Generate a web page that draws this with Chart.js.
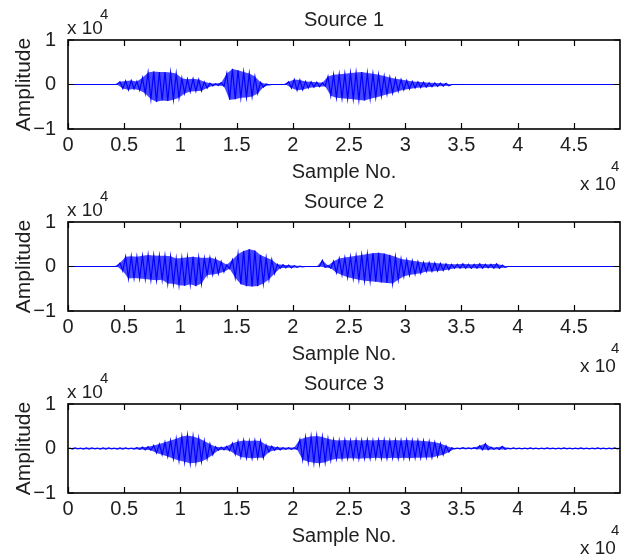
<!DOCTYPE html>
<html>
<head>
<meta charset="utf-8">
<script src="https://cdn.jsdelivr.net/npm/chart.js@4.4.1/dist/chart.umd.min.js"></script>
<style>
html,body{margin:0;padding:0;background:#ffffff;}
#wrap{position:relative;width:637px;height:560px;overflow:hidden;}
#wrap canvas{position:absolute;left:0;}
</style>
</head>
<body>
<div id="wrap">
<canvas id="c1" width="637" height="196" style="top:0px"></canvas>
<canvas id="c2" width="637" height="196" style="top:182px"></canvas>
<canvas id="c3" width="637" height="196" style="top:364px"></canvas>
</div>
<script>
// ---- data (amplitude envelopes, one value per 500-sample block) ----
const BIN = 500;
const X_MAX = 49100;
const titles = ["Source 1", "Source 2", "Source 3"];
const xTickValues = [0, 5000, 10000, 15000, 20000, 25000, 30000, 35000, 40000, 45000];
const xTickLabels = ["0", "0.5", "1", "1.5", "2", "2.5", "3", "3.5", "4", "4.5"];
const yTickValues = [-10000, 0, 10000];
const yTickLabels = ["\u22121", "0", "1"];

const s1Upper = [0,0,0,0,0,0,0,0,0, 600, 800,900,700,1500, 2700,2900,2800,2800,2700,2500,
  1400,1200,1300,1100, 600,300,200,400, 2500,3500,3200,2800,2500,1800,500,100, 0,0,0, 600,
  1100,1000,700,600,500,400, 1800,2200,2300,2400,2600,2700,2800,2600,2400,2200,1900,1600,1300,1100,900,700,600,500,400,350,300,250,
  0,0,0,0,0,0,0,0,0,0,0,0,0,0,0,0,0,0,0,0,0,0,0,0,0,0,0,0,0,0,0];
const s1Lower = [0,0,0,0,0,0,0,0,0, -900, -1200,-1000,-1300,-2000, -3300,-3900,-3600,-3700,-3400,-3000,
  -2000,-1600,-1500,-1400, -800,-300,-200,-400, -3400,-3300,-3000,-2900,-2700,-2000,-600,-100, 0,0,0, -800,
  -1300,-1200,-800,-600,-500,-400, -2500,-3000,-3100,-3200,-3300,-3500,-3600,-3200,-2900,-2600,-2200,-1900,-1500,-1200,-1000,-800,-700,-600,-500,-400,-350,-300,
  0,0,0,0,0,0,0,0,0,0,0,0,0,0,0,0,0,0,0,0,0,0,0,0,0,0,0,0,0,0,0];

const s2Upper = [0,0,0,0,0,0,0,0,0, 800, 2200,2300,2200,2400, 2600,2500,2400, 2400,2300, 1800,1900,2100, 2200,2000,
  1900,2000,1700,1100, 400, 1500,2800,3500,3900,3600,2600,2000,1500,500, 400,300,200,100, 0,0,0, 1400, 200,
  1200,1800,2000,2200,2400,2600,2800,3000,3100,2900,2600,2200,1700,1500,1300,1100,900,900,800,700,600,
  500,500,600,500,500,600,500,500,600,300,
  0,0,0,0,0,0,0,0,0,0,0,0,0,0,0,0,0,0,0,0,0];
const s2Lower = [0,0,0,0,0,0,0,0,0, -1000, -2700,-2600,-2700,-2800, -3000,-3100,-3000, -3800,-3900, -4200,-4300,-4000, -4400,-3800,
  -1900,-1800,-1600,-1200, -500, -2500,-4000,-4400,-4500,-4400,-3800,-2900,-1600,-400, -300,-300,-200,-100, 0,0,0, -200, -400,
  -1400,-1900,-2400,-2700,-3000,-3200,-3300,-3400,-3600,-3700,-3800,-3000,-2200,-1900,-1700,-1500,-1100,-1100,-1000,-900,-700,
  -400,-400,-400,-400,-400,-400,-300,-400,-400,-200,
  0,0,0,0,0,0,0,0,0,0,0,0,0,0,0,0,0,0,0,0,0];

const s3Upper = [150,150,100,150,150,100,150,150,100,150,150,100, 200,300,400,
  700,1000,1400,1800,2200,2700,2900,2700,2300,1700,1000, 400,300,500,
  1200,1600,1800,1700,1800,1700, 800,500,300, 200,200,200,
  2000,2500,2700,2800,2600,2200,
  1900,1800,1900,1800,1900,1800,1900,1800,1900,1900,1800,1900,1800,1900,1800,1800,1700,
  1600,1400,1100,600, 150,100,200,150,200, 600,1100, 300,200,500,
  100,150,100,100,150,100,100,150,100,100,150,100,100,150,100,100,150,100,100,150,100];
const s3Lower = [-150,-100,-150,-150,-100,-150,-150,-100,-150,-150,-100,-150, -200,-300,-400,
  -1000,-1400,-1800,-2300,-2700,-3000,-3300,-3200,-2900,-2300,-1400, -400,-300,-500,
  -1300,-1900,-2100,-2200,-2100,-2100, -800,-400,-300, -200,-200,-200,
  -2500,-3000,-3200,-3300,-3100,-2600,
  -2300,-2300,-2200,-2200,-2300,-2200,-2200,-2100,-2200,-2200,-2100,-2200,-2100,-2200,-2100,-2100,-2000,
  -2000,-1700,-1400,-800, -100,-100,-100,-100,-100, -300,-300, -200,-200,-200,
  -100,-100,-100,-100,-100,-100,-100,-100,-100,-100,-100,-100,-100,-100,-100,-100,-100,-100,-100,-100,-100];

// ---- styling ----
const FONT = "'Liberation Sans', Arial, sans-serif";
const TXT = "#1e1e1e";

function zigzag(upper, lower) {
  const pts = [];
  for (let i = 0; i < upper.length; i++) {
    pts.push({x: i * BIN + BIN * 0.25, y: upper[i]});
    pts.push({x: i * BIN + BIN * 0.75, y: lower[i]});
  }
  return pts;
}
function envelope(vals, shift) {
  return vals.map((v, i) => ({x: i * BIN + BIN * shift, y: v}));
}

const framePlugin = {
  id: 'matlabFrame',
  afterDatasetsDraw(chart) {
    const {ctx, chartArea: a, scales: {x, y}} = chart;
    ctx.save();
    ctx.strokeStyle = '#000';
    ctx.lineWidth = 1.6;
    ctx.strokeRect(a.left, a.top, a.right - a.left, a.bottom - a.top);
    ctx.lineWidth = 1.2;
    ctx.beginPath();
    xTickValues.forEach(v => {
      const p = Math.round(x.getPixelForValue(v)) + 0.5;
      ctx.moveTo(p, a.bottom); ctx.lineTo(p, a.bottom - 6);
      ctx.moveTo(p, a.top); ctx.lineTo(p, a.top + 6);
    });
    yTickValues.forEach(v => {
      const p = y.getPixelForValue(v);
      ctx.moveTo(a.left, p); ctx.lineTo(a.left + 6, p);
      ctx.moveTo(a.right, p); ctx.lineTo(a.right - 6, p);
    });
    ctx.stroke();
    // exponent labels
    ctx.fillStyle = TXT;
    ctx.textBaseline = 'middle';
    ctx.textAlign = 'left';
    ctx.font = "19px " + FONT;
    ctx.fillText("x 10", a.left - 1, a.top - 11);
    ctx.fillText("x 10", a.right - 40, a.bottom + 56);
    ctx.font = "15px " + FONT;
    ctx.fillText("4", a.left + 32, a.top - 25);
    ctx.fillText("4", a.right - 9, a.bottom + 38);
    ctx.restore();
  }
};

function makeChart(id, title, upper, lower) {
  const ctx = document.getElementById(id).getContext('2d');
  return new Chart(ctx, {
    type: 'line',
    data: {
      datasets: [
        { // upper envelope (band edge)
          data: envelope(upper, 0.25),
          borderWidth: 0, borderColor: 'rgba(0,0,0,0)',
          pointRadius: 0, tension: 0, fill: false, order: 3
        },
        { // lower envelope, filled up to the upper one
          data: envelope(lower, 0.75),
          borderWidth: 0, borderColor: 'rgba(0,0,0,0)',
          backgroundColor: 'rgba(0,0,255,0.72)',
          pointRadius: 0, tension: 0, fill: '-1', order: 2
        },
        { // oscillating trace
          data: zigzag(upper, lower),
          borderColor: '#0000ff',
          borderWidth: 1.2,
          pointRadius: 0,
          tension: 0,
          fill: false, order: 1
        }
      ]
    },
    options: {
      responsive: false,
      animation: false,
      devicePixelRatio: 1,
      layout: {padding: {left: 0, right: 17, top: 0, bottom: 14}},
      plugins: {
        legend: {display: false},
        tooltip: {enabled: false},
        filler: {propagate: false},
        title: {
          display: true, text: title, fullSize: false,
          font: {family: FONT, size: 20, weight: 'normal', lineHeight: 1.2},
          color: TXT, padding: {top: 8, bottom: 8}
        }
      },
      scales: {
        x: {
          type: 'linear', min: 0, max: X_MAX,
          afterFit(s) { s.height = 53; },
          afterBuildTicks(s) { s.ticks = xTickValues.map(v => ({value: v})); },
          ticks: {
            autoSkip: false, maxRotation: 0, padding: 4,
            font: {family: FONT, size: 20, lineHeight: 1.2}, color: TXT,
            callback: (v) => xTickLabels[xTickValues.indexOf(v)]
          },
          grid: {display: false, drawTicks: false},
          border: {display: false},
          title: {display: true, text: 'Sample No.', color: TXT, padding: 0,
                  font: {family: FONT, size: 20, lineHeight: 1}}
        },
        y: {
          min: -10000, max: 10000,
          afterFit(s) { s.width = 68; },
          afterBuildTicks(s) { s.ticks = yTickValues.map(v => ({value: v})); },
          ticks: {
            padding: 12,
            font: {family: FONT, size: 20, lineHeight: 1.2}, color: TXT,
            callback: (v) => yTickLabels[yTickValues.indexOf(v)]
          },
          grid: {display: false, drawTicks: false},
          border: {display: false},
          title: {display: true, text: 'Amplitude', color: TXT, padding: {top: 14, bottom: 0},
                  font: {family: FONT, size: 21, lineHeight: 1}}
        }
      }
    },
    plugins: [framePlugin]
  });
}

makeChart('c1', titles[0], s1Upper, s1Lower);
makeChart('c2', titles[1], s2Upper, s2Lower);
makeChart('c3', titles[2], s3Upper, s3Lower);
</script>
</body>
</html>
